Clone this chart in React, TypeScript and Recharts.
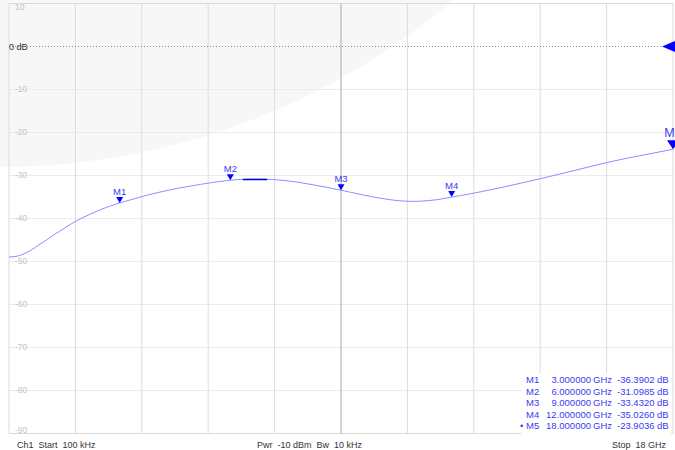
import React from 'react';
import { ComposedChart, Line, XAxis, YAxis, ReferenceLine, ReferenceDot } from 'recharts';

const freqGHz = [0.0001, 0.163, 0.344, 0.569, 0.794, 1.022, 1.247, 1.518, 1.789, 2.06, 2.331, 2.602, 3.0, 3.361, 3.605, 3.9, 4.5, 5.0, 5.4, 6.0, 6.343, 6.668, 6.993, 7.211, 7.6, 7.89, 8.43, 9.0, 9.38, 9.79, 10.19, 10.55, 10.87, 11.2, 11.6, 12.0, 12.6, 13.5, 14.4, 15.3, 16.2, 17.1, 18.0];
const s21dB = [-48.95, -48.85, -48.45, -47.5, -46.25, -44.95, -43.65, -42.15, -40.75, -39.55, -38.5, -37.55, -36.39, -35.5, -34.9, -34.25, -33.1, -32.35, -31.78, -31.1, -30.92, -30.86, -30.9, -30.97, -31.3, -31.65, -32.45, -33.43, -34.13, -34.85, -35.45, -35.85, -36.0, -35.95, -35.62, -35.03, -34.1, -32.5, -30.75, -28.9, -27.0, -25.4, -23.9];

const bandFreqs = [6.34, 7.0];
const bandValues = [-30.92, -30.92];

const markerNames = ['M1', 'M2', 'M3', 'M4', 'M5'];
const markerFreqs = [3, 6, 9, 12, 18];
const markerValues = [-36.3902, -31.0985, -33.432, -35.026, -23.9036];
const activeMarker = 'M5';

const startFreqGHz = 0.0001;
const stopFreqGHz = 18;
const xDivisions = 10;
const yTicks = [10, 0, -10, -20, -30, -40, -50, -60, -70, -80, -90];
const refLevel = 0;

const footerLeft = 'Ch1  Start  100 kHz';
const footerMid = 'Pwr  -10 dBm  Bw  10 kHz';
const footerRight = 'Stop  18 GHz';

const traceData = freqGHz.map((f, i) => ({ f, v: s21dB[i] }));
const bandData = bandFreqs.map((f, i) => ({ f, v: bandValues[i] }));
const xTicks = Array.from({ length: xDivisions + 1 }, (_, i) => startFreqGHz + (i * (stopFreqGHz - startFreqGHz)) / xDivisions);

const FONT = '"Liberation Sans", Arial, sans-serif';
const BLUE = '#0000ff';
const LABEL_BLUE = '#3a3af5';

const yLabel = (v: number) => (props: any) => {
  const vb = props.viewBox || {};
  const x = vb.x ?? 9;
  const y = vb.y ?? 0;
  if (v === 0) {
    return (
      <text x={x} y={y} dy="0.35em" fill="#333" fontSize={9} fontFamily={FONT}>0 dB</text>
    );
  }
  const dy = v === 10 ? 4 : v === -90 ? -3.5 : 0;
  return (
    <text x={x + 6} y={y + dy} dy="0.35em" fill="#c4c4c4" fontSize={8.5} fontFamily={FONT}>{v}</text>
  );
};

const makeMarkerShape = (name: string) => (props: any) => {
  const { cx, cy } = props;
  const active = name === activeMarker;
  if (active) {
    return (
      <g>
        <polygon points={`${cx - 6},${cy - 9} ${cx + 6},${cy - 9} ${cx},${cy}`} fill={BLUE} />
        <text x={cx} y={cy - 12} textAnchor="middle" fill={LABEL_BLUE} fontSize={12.5} fontFamily={FONT}>{name}</text>
      </g>
    );
  }
  return (
    <g>
      <polygon points={`${cx - 3.5},${cy - 6} ${cx + 3.5},${cy - 6} ${cx},${cy}`} fill={BLUE} />
      <text x={cx} y={cy - 8} textAnchor="middle" fill={LABEL_BLUE} fontSize={9.5} fontFamily={FONT}>{name}</text>
    </g>
  );
};

const RefShape = (props: any) => {
  const { cx, cy } = props;
  return <polygon points={`${cx - 11},${cy} ${cx + 2},${cy - 5.5} ${cx + 2},${cy + 5.5}`} fill={BLUE} />;
};

const rowBaselines = [383, 394.5, 406, 417.5, 429];
const pre = { whiteSpace: 'pre' } as React.CSSProperties;

export default function App() {
  return (
    <div style={{ position: 'absolute', left: 0, top: 0, width: 675, height: 450, overflow: 'hidden', background: '#fff' }}>
      <div style={{ position: 'absolute', left: -699, top: -1231, width: 1398, height: 1398, borderRadius: '50%', background: '#f7f7f7' }} />
      <div style={{ position: 'absolute', left: 0, top: 0 }}>
        <ComposedChart width={675} height={450} margin={{ top: 3.5, right: 2, bottom: 16.5, left: 9 }}>
          <XAxis type="number" dataKey="f" domain={[startFreqGHz, stopFreqGHz]} hide allowDataOverflow />
          <YAxis type="number" domain={[-90, 10]} hide allowDataOverflow />
          {yTicks.filter((t) => t !== refLevel).map((t) => (
            <ReferenceLine key={'h' + t} y={t} stroke={t === 10 || t === -90 ? '#dadada' : '#ececec'} strokeWidth={1} ifOverflow="visible" label={yLabel(t)} />
          ))}
          {xTicks.map((t, i) => (
            <ReferenceLine key={'v' + i} x={t} stroke={i === 5 ? '#a6a6a6' : '#dcdcdc'} strokeWidth={1} ifOverflow="visible" />
          ))}
          <ReferenceLine y={refLevel} stroke="#8a8a8a" strokeDasharray="1 2" strokeWidth={1} ifOverflow="visible" label={yLabel(refLevel)} />
          <Line data={traceData} dataKey="v" type="natural" stroke="#8c8cff" strokeWidth={1} dot={false} isAnimationActive={false} />
          <Line data={bandData} dataKey="v" type="linear" stroke="#0000cc" strokeWidth={1.5} dot={false} isAnimationActive={false} />
          {markerNames.map((n, i) => (
            <ReferenceDot key={n} x={markerFreqs[i]} y={markerValues[i]} r={0} ifOverflow="visible" shape={makeMarkerShape(n)} />
          ))}
          <ReferenceDot x={stopFreqGHz} y={refLevel} r={0} ifOverflow="visible" shape={<RefShape />} />
        </ComposedChart>
      </div>
      <svg width={675} height={450} style={{ position: 'absolute', left: 0, top: 0, pointerEvents: 'none' }} fontFamily={FONT}>
        <rect x={521} y={373} width={150} height={64} fill="#fff" />
        {markerNames.map((n, i) => (
          <g key={n} fill={LABEL_BLUE} fontSize={9.5}>
            {n === activeMarker && <text x={520} y={rowBaselines[i]}>•</text>}
            <text x={526} y={rowBaselines[i]}>{n}</text>
            <text x={591} y={rowBaselines[i]} textAnchor="end">{markerFreqs[i].toFixed(6)}</text>
            <text x={593} y={rowBaselines[i]}>GHz</text>
            <text x={654.5} y={rowBaselines[i]} textAnchor="end">{markerValues[i].toFixed(4)}</text>
            <text x={657} y={rowBaselines[i]}>dB</text>
          </g>
        ))}
        <g fill="#333" fontSize={9}>
          <text x={17} y={447.5} style={pre}>{footerLeft}</text>
          <text x={257} y={447.5} style={pre}>{footerMid}</text>
          <text x={666} y={447.5} textAnchor="end" style={pre}>{footerRight}</text>
        </g>
      </svg>
    </div>
  );
}
